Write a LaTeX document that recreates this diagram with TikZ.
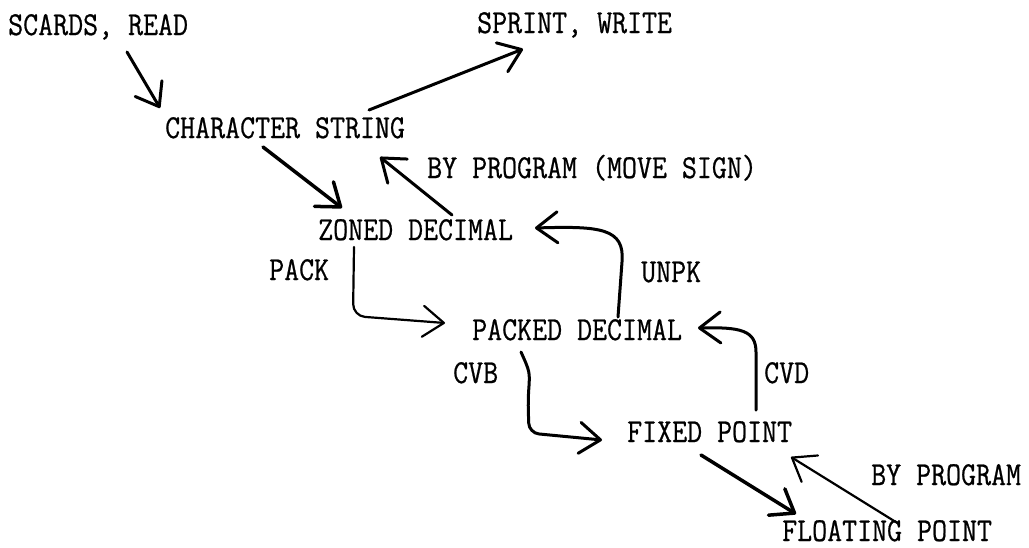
\documentclass[tikz,border=0pt]{standalone}
\usepackage{fontspec}
\newfontfamily\twfont{Latin Modern Mono}[FakeBold=0.7]
\usetikzlibrary{arrows.meta,calc}
\newcommand{\tw}[1]{\scalebox{1}[1.15]{#1}}
\begin{document}
\begin{tikzpicture}[x=1pt,y=-1pt,
  lbl/.style={font=\fontsize{29.1}{32}\selectfont\twfont, inner sep=0pt, anchor=base west},
  arr/.style={line width=3pt, line cap=round, line join=round,
    -{Straight Barb[length=21pt,width=31pt,line cap=round,line join=round]}},
  thinarr/.style={arr, line width=2.2pt}]
\useasboundingbox (0,0) rectangle (1029,547);

% data forms
\node[lbl] (scards)   at (8,35)    {\tw{SCARDS, READ}};
\node[lbl] (sprint)   at (477,33)  {\tw{SPRINT, WRITE}};
\node[lbl] (charstr)  at (165,138) {\tw{CHARACTER STRING}};
\node[lbl] (byprog)   at (427,178) {\tw{BY PROGRAM (MOVE SIGN)}};
\node[lbl] (zoned)    at (318,240) {\tw{ZONED DECIMAL}};
\node[lbl] (pack)     at (269,280) {\tw{PACK}};
\node[lbl] (unpk)     at (641,282) {\tw{UNPK}};
\node[lbl] (packed)   at (472,340) {\tw{PACKED DECIMAL}};
\node[lbl] (cvb)      at (453,383) {\tw{CVB}};
\node[lbl] (cvd)      at (764,383) {\tw{CVD}};
\node[lbl] (fixed)    at (627,442) {\tw{FIXED POINT}};
\node[lbl] (byprogb)  at (871,485) {\tw{BY PROGRAM}};
\node[lbl] (floating) at (782,541) {\tw{FLOATING POINT}};

% input / output
\draw[arr] ($(scards.base west)+(119,17)$) -- ($(charstr.base west)+(-5,-30)$);
\draw[arr] ($(charstr.base west)+(204,-28)$) -- ($(sprint.base west)+(46,16)$);

% character string <-> zoned decimal
\draw[arr, line width=3.5pt] ($(charstr.base west)+(98,9)$) -- ($(zoned.base west)+(24,-32)$);
\draw[arr] ($(zoned.base west)+(134,-25)$) -- ($(charstr.base west)+(215,19)$);

% PACK
\draw[thinarr, rounded corners=12pt] ($(zoned.base west)+(36,7)$) -- (353,316) -- ($(packed.base west)+(-27,-17)$);

% UNPK
\draw[arr] ($(packed.base west)+(146,-23)$) -- (622,262)
  .. controls (625,228) and (600,226) .. ($(zoned.base west)+(217,-12)$);

% CVB
\draw[arr, rounded corners=10pt] ($(packed.base west)+(49,12)$) .. controls (530,372) .. (528,400)
  -- (529,433) -- ($(fixed.base west)+(-25,-2)$);

% CVD
\draw[arr] ($(fixed.base west)+(129,-32)$) -- (756,352)
  .. controls (756,330) and (740,327) .. ($(packed.base west)+(226,-12)$);

% fixed point <-> floating point
\draw[arr, line width=3.5pt] ($(fixed.base west)+(74,13)$) -- ($(floating.base west)+(14,-27)$);
\draw[thinarr] ($(floating.base west)+(117,-17)$) -- ($(fixed.base west)+(164,15)$);
\end{tikzpicture}
\end{document}
